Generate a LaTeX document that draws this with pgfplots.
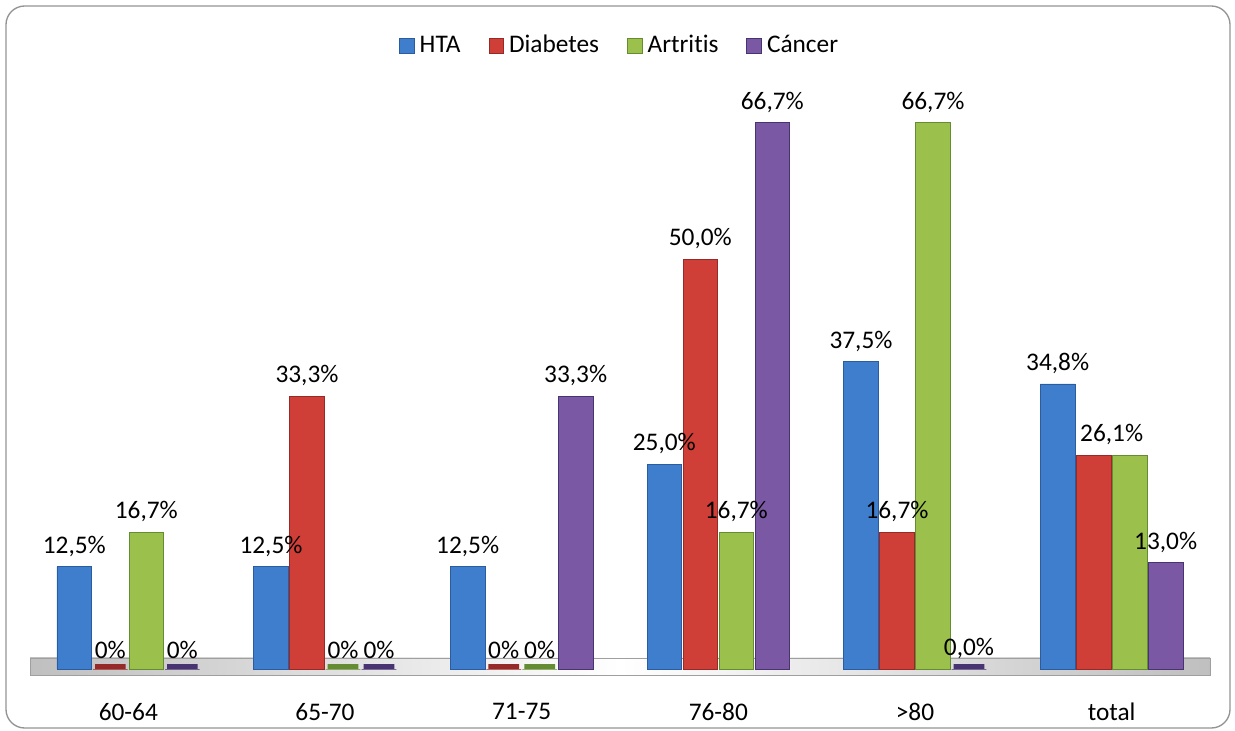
\documentclass[border=0pt]{standalone}
\usepackage{pgfplots}
\pgfplotsset{compat=1.18}
\usepackage{fontspec}
\setmainfont{Carlito}[Ligatures={NoCommon}]
\definecolor{htaC}{RGB}{62,126,205}
\definecolor{htaD}{RGB}{44,92,160}
\definecolor{diaC}{RGB}{208,62,56}
\definecolor{diaD}{RGB}{150,42,40}
\definecolor{artC}{RGB}{156,192,76}
\definecolor{artD}{RGB}{100,140,50}
\definecolor{canC}{RGB}{122,88,164}
\definecolor{canD}{RGB}{72,52,112}
\newcommand{\lblfont}{\fontsize{19}{22}\selectfont}
\begin{document}
\begin{tikzpicture}[x=1pt,y=1pt]
\useasboundingbox (0,0) rectangle (926.25,-548.25);
\draw[rounded corners=14pt, color=gray!85, line width=1pt] (4.5,-4.5) rectangle (922.5,-546);
\begin{axis}[
  at={(22.5pt,-501.75pt)}, anchor=south west,
  scale only axis, width=885pt, height=442.5pt,
  xmin=-0.5, xmax=5.5, ymin=0, ymax=72,
  clip=false,
  axis line style={draw=none},
  tick style={draw=none},
  ytick=\empty,
  xtick={0,1,2,3,4,5},
  xticklabels={60-64,65-70,71-75,76-80,>80,total},
  xticklabel style={font=\lblfont, yshift=-22pt},
  nodes near coords style={font=\lblfont, text=black, yshift=4pt},
  legend columns=4,
  legend style={at={(0.5,1)}, anchor=center, yshift=25.5pt, draw=none, fill=none,
    font=\lblfont, /tikz/every even column/.append style={column sep=19pt},
    /tikz/every odd column/.append style={column sep=2pt}},
]
\path[draw=gray!75, left color=gray!50, right color=gray!50, middle color=white]
  (axis cs:-0.5,-0.75) rectangle (axis cs:5.5,1.35);
\addplot[ybar, bar width=26pt, bar shift=-40.5pt, draw=htaD, fill=htaC,
  nodes near coords, point meta=explicit symbolic,
  every node near coord/.append style={xshift=-40.5pt},
  legend image code/.code={\path[draw=htaD, fill=htaC] (0pt,-6pt) rectangle (11pt,5pt);}]
  coordinates {(0,12.5)[12,5\%] (1,12.5)[12,5\%] (2,12.5)[12,5\%] (3,25.0)[25,0\%] (4,37.5)[37,5\%] (5,34.8)[34,8\%]};
\addlegendentry{HTA}
\addplot[ybar, bar width=26pt, bar shift=-13.5pt, draw=diaD, fill=diaC,
  nodes near coords, point meta=explicit symbolic,
  every node near coord/.append style={xshift=-13.5pt},
  legend image code/.code={\path[draw=diaD, fill=diaC] (0pt,-6pt) rectangle (11pt,5pt);}]
  coordinates {(0,0)[0\%] (1,33.3)[33,3\%] (2,0)[0\%] (3,50.0)[50,0\%] (4,16.7)[16,7\%] (5,26.1)[]};
\addlegendentry{Diabetes}
\addplot[ybar, bar width=26pt, bar shift=13.5pt, draw=artD, fill=artC,
  nodes near coords, point meta=explicit symbolic,
  every node near coord/.append style={xshift=13.5pt},
  legend image code/.code={\path[draw=artD, fill=artC] (0pt,-6pt) rectangle (11pt,5pt);}]
  coordinates {(0,16.7)[16,7\%] (1,0)[0\%] (2,0)[0\%] (3,16.7)[16,7\%] (4,66.7)[66,7\%] (5,26.1)[]};
\addlegendentry{Artritis}
\addplot[ybar, bar width=26pt, bar shift=40.5pt, draw=canD, fill=canC,
  nodes near coords, point meta=explicit symbolic,
  every node near coord/.append style={xshift=40.5pt},
  legend image code/.code={\path[draw=canD, fill=canC] (0pt,-6pt) rectangle (11pt,5pt);}]
  coordinates {(0,0)[0\%] (1,0)[0\%] (2,33.3)[33,3\%] (3,66.7)[66,7\%] (4,0)[0,0\%] (5,13.0)[13,0\%]};
\addlegendentry{Cáncer}
% zero-valued bars shown as thin dark slabs
\addplot[ybar, bar width=23pt, bar shift=-13.5pt, draw=diaD, line width=3.5pt, fill=diaD, yshift=2pt, forget plot]
  coordinates {(0,0) (2,0)};
\addplot[ybar, bar width=23pt, bar shift=13.5pt, draw=artD, line width=3.5pt, fill=artD, yshift=2pt, forget plot]
  coordinates {(1,0) (2,0)};
\addplot[ybar, bar width=23pt, bar shift=40.5pt, draw=canD, line width=3.5pt, fill=canD, yshift=2pt, forget plot]
  coordinates {(0,0) (1,0) (4,0)};
\addplot[draw=none, mark=none, nodes near coords, point meta=explicit symbolic, forget plot]
  coordinates {(5,26.1)[26,1\%]};
\end{axis}
\end{tikzpicture}
\end{document}
